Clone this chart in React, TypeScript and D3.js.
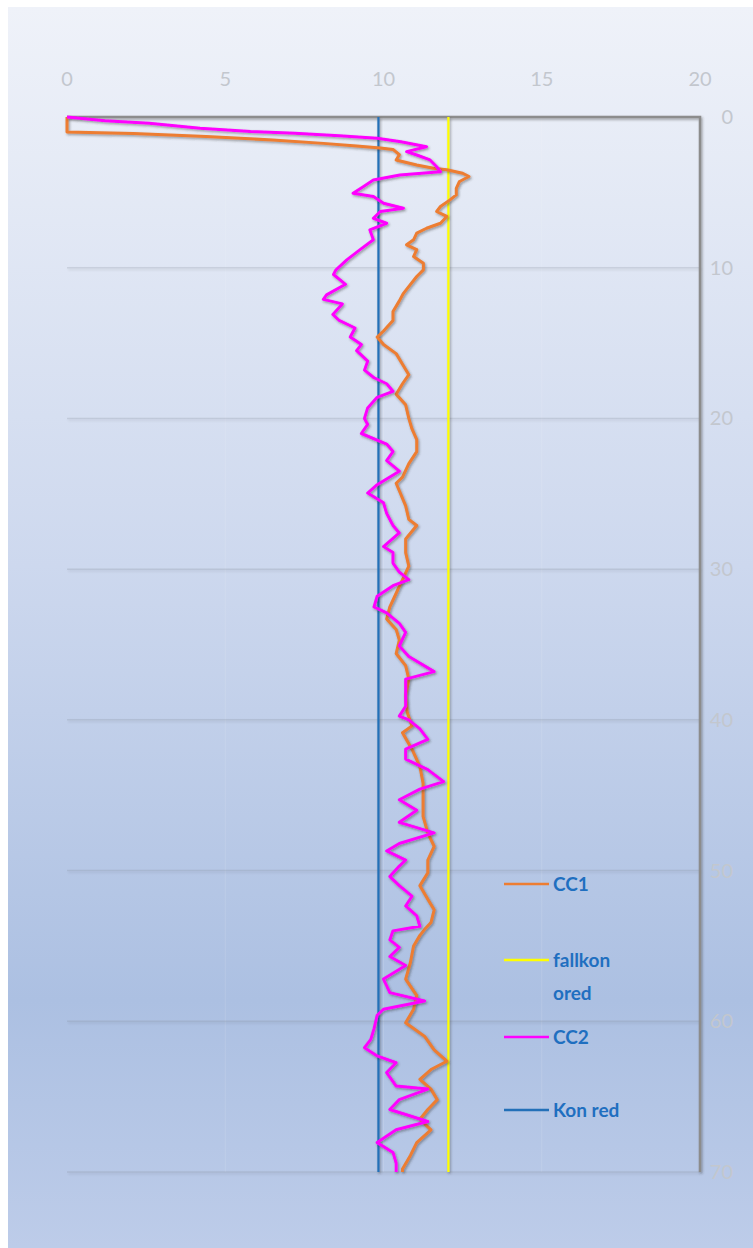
import React, { useEffect } from 'react';
import { scaleLinear, line } from 'd3';

const W = 753;
const H = 1248;

// depth (m) and value pairs
const cc1Depth = [0, 1.0, 1.1, 1.3, 1.52, 1.75, 1.93, 2.05, 2.15, 2.5, 2.85, 3.18, 3.4, 3.5, 3.73, 3.95, 4.28, 4.73, 5.17, 5.5, 5.94, 6.27, 6.6, 7.05, 7.38, 7.7, 8.15, 8.48, 8.8, 9.26, 9.7, 10.14, 10.58, 11.14, 11.7, 12.2, 12.9, 13.5, 14.2, 14.6, 15.1, 15.7, 16.4, 17.1, 17.7, 18.4, 19.1, 20.0, 20.7, 21.4, 22.2, 23.0, 23.9, 24.3, 24.8, 25.8, 26.7, 27.1, 28.0, 28.9, 29.8, 30.7, 31.6, 32.5, 33.3, 34.0, 34.7, 35.6, 36.4, 37.3, 38.4, 39.5, 40.4, 40.85, 41.95, 43.1, 44.2, 45.3, 46.4, 47.5, 48.4, 49.3, 50.15, 51.0, 51.9, 52.6, 53.45, 53.9, 54.3, 55.0, 56.1, 57.2, 58.3, 59.2, 60.1, 61.0, 61.9, 62.65, 63.2, 63.85, 64.5, 65.2, 65.85, 66.5, 67.2, 68.05, 68.9, 69.8, 70];
const cc1Value = [0, 0, 2.1, 4.4, 6.5, 8.1, 9.15, 9.9, 10.3, 10.5, 10.4, 11.05, 11.58, 12.0, 12.5, 12.7, 12.4, 12.3, 12.3, 12.1, 11.8, 11.68, 12.0, 11.8, 11.36, 11.05, 10.95, 10.73, 11.05, 10.95, 11.26, 11.26, 11.05, 10.84, 10.63, 10.5, 10.3, 10.3, 10.0, 9.8, 10.0, 10.4, 10.6, 10.8, 10.6, 10.4, 10.7, 10.8, 10.9, 11.05, 11.05, 10.8, 10.6, 10.4, 10.5, 10.7, 10.8, 11.05, 10.7, 10.7, 10.8, 10.6, 10.4, 10.2, 10.1, 10.4, 10.5, 10.4, 10.7, 10.8, 10.7, 10.75, 10.9, 10.6, 10.9, 11.15, 11.25, 11.25, 11.25, 11.4, 11.6, 11.4, 11.4, 11.15, 11.4, 11.6, 11.5, 11.3, 11.15, 10.95, 10.85, 10.7, 11.05, 10.95, 10.7, 11.3, 11.6, 12.0, 11.5, 11.15, 11.5, 11.7, 11.4, 11.15, 11.5, 11.05, 10.85, 10.6, 10.6];

const cc2Depth = [0, 0.25, 0.42, 0.75, 0.97, 1.08, 1.24, 1.41, 1.64, 1.97, 2.3, 2.52, 2.85, 3.3, 3.63, 3.85, 4.18, 4.62, 5.06, 5.28, 5.72, 6.05, 6.27, 6.72, 7.05, 7.49, 8.15, 8.8, 9.48, 10.14, 10.45, 11.1, 11.8, 12.1, 12.4, 13.1, 13.5, 14.0, 14.6, 15.1, 15.5, 16.2, 16.8, 17.3, 17.7, 18.2, 18.6, 19.3, 20.0, 20.4, 21.0, 21.7, 22.2, 22.8, 23.5, 24.4, 24.95, 25.6, 26.3, 27.1, 27.6, 28.5, 28.9, 29.6, 30.2, 30.7, 31.1, 31.8, 32.5, 32.9, 33.6, 34.2, 35.1, 35.8, 36.8, 37.3, 38.2, 39.1, 39.75, 40.0, 40.6, 41.3, 41.95, 42.6, 43.3, 44.1, 44.6, 45.3, 46.0, 46.8, 47.5, 48.2, 48.7, 49.3, 49.7, 50.4, 51.0, 51.7, 52.35, 53.0, 53.7, 54.0, 54.6, 55.1, 55.7, 56.3, 57.2, 58.1, 58.65, 59.2, 59.6, 60.5, 61.2, 61.75, 62.3, 62.75, 63.4, 64.3, 64.5, 65.2, 65.85, 66.65, 67.2, 68.05, 68.7, 69.4, 70];
const cc2Value = [0, 1.2, 2.6, 4.2, 5.8, 7.2, 8.6, 9.8, 10.55, 11.36, 10.73, 11.05, 11.47, 11.68, 11.8, 10.52, 9.68, 9.36, 9.04, 9.68, 10.0, 10.63, 9.9, 9.68, 10.1, 9.57, 9.68, 9.26, 8.84, 8.5, 8.42, 8.8, 8.2, 8.1, 8.7, 8.4, 8.6, 9.1, 8.95, 9.3, 9.15, 9.5, 9.4, 9.7, 10.1, 10.3, 9.8, 9.5, 9.4, 9.5, 9.3, 10.1, 10.3, 10.1, 10.5, 9.8, 9.5, 10.0, 10.1, 10.3, 10.5, 10.0, 10.3, 10.3, 10.5, 10.8, 10.3, 9.8, 9.7, 10.1, 10.5, 10.7, 10.5, 10.8, 11.6, 10.7, 10.7, 10.7, 10.5, 10.8, 11.15, 11.4, 10.7, 10.7, 11.4, 11.9, 11.15, 10.5, 11.05, 10.5, 11.6, 10.5, 10.1, 10.7, 10.5, 10.2, 10.5, 10.9, 10.7, 11.05, 11.15, 10.3, 10.2, 10.5, 10.2, 10.7, 10.0, 10.2, 11.3, 10.0, 9.8, 9.7, 9.6, 9.4, 9.8, 10.4, 10.1, 10.4, 11.4, 10.5, 10.2, 11.4, 10.4, 9.8, 10.3, 10.4, 10.4];

const konRed = 9.84;
const fallkonOred = 12.05;

const xTicks = [0, 5, 10, 15, 20];
const yTicks = [0, 10, 20, 30, 40, 50, 60, 70];

const legendItems = [
  { lines: ['CC1'], color: '#ed7d31' },
  { lines: ['fallkon', 'ored'], color: '#ffff00' },
  { lines: ['CC2'], color: '#ff00ff' },
  { lines: ['Kon red'], color: '#2370b8' },
];
const legendY = [884, 960, 1037, 1110];

const x = scaleLinear().domain([0, 20]).range([67, 700]);
const y = scaleLinear().domain([0, 70]).range([117, 1172]);

const path = line<[number, number]>()
  .x(d => x(d[1]))
  .y(d => y(d[0]));

const zip = (a: number[], b: number[]) => a.map((d, i) => [d, b[i]] as [number, number]);

export default function App() {
  useEffect(() => {
    document.body.style.margin = '0';
  }, []);

  const font = 'Lato, "Open Sans", sans-serif';

  return (
    <svg width={W} height={H} style={{ display: 'block' }}>
      <defs>
        <linearGradient id="bg" x1="0" y1="0" x2="0" y2="1">
          <stop offset="0" stopColor="#eff2f9" />
          <stop offset="0.45" stopColor="#cdd8ee" />
          <stop offset="0.8" stopColor="#acc0e2" />
          <stop offset="1" stopColor="#bdcce9" />
        </linearGradient>
        <filter id="shadow" filterUnits="userSpaceOnUse" x={0} y={0} width={W} height={H}>
          <feDropShadow dx="1.2" dy="1.5" stdDeviation="1.2" floodColor="#333" floodOpacity="0.45" />
        </filter>
      </defs>
      <rect x={0} y={0} width={W} height={H} fill="#fff" />
      <rect x={8} y={7} width={W - 8} height={H - 7} fill="url(#bg)" />

      {/* faint vertical gridlines */}
      {xTicks.slice(1, -1).map(t => (
        <line key={'v' + t} x1={x(t)} x2={x(t)} y1={y(0)} y2={y(70)} stroke="#ffffff" strokeOpacity={0.12} strokeWidth={1} />
      ))}
      {/* horizontal gridlines */}
      {yTicks.slice(1).map(t => (
        <line key={'h' + t} x1={x(0)} x2={x(20)} y1={y(t)} y2={y(t)} stroke="#7f8796" strokeOpacity={0.22} strokeWidth={1.5} filter="url(#shadow)" />
      ))}
      {/* frame: top + right */}
      <path d={`M${x(0)},${y(0)}H${x(20)}V${y(70)}`} fill="none" stroke="#8c8c8c" strokeWidth={2.5} filter="url(#shadow)" />

      {/* reference lines */}
      <line x1={x(konRed)} x2={x(konRed)} y1={y(0)} y2={y(70)} stroke="#2370b8" strokeWidth={2.2} filter="url(#shadow)" />
      <line x1={x(fallkonOred)} x2={x(fallkonOred)} y1={y(0)} y2={y(70)} stroke="#ffff00" strokeWidth={2.2} filter="url(#shadow)" />

      {/* series */}
      <path d={path(zip(cc1Depth, cc1Value)) || ''} fill="none" stroke="#ed7d31" strokeWidth={3} strokeLinejoin="round" filter="url(#shadow)" />
      <path d={path(zip(cc2Depth, cc2Value)) || ''} fill="none" stroke="#ff00ff" strokeWidth={3} strokeLinejoin="round" filter="url(#shadow)" />

      {/* top axis labels */}
      {xTicks.map(t => (
        <text key={'xt' + t} x={x(t)} y={86} textAnchor="middle" fontFamily={font} fontSize={20} fill="#c3c7ce">{t}</text>
      ))}
      {/* right axis labels */}
      {yTicks.map(t => (
        <text key={'yt' + t} x={733} y={y(t) + 7} textAnchor="end" fontFamily={font} fontSize={20} fill="#c3c7ce">{t}</text>
      ))}

      {/* legend */}
      {legendItems.map((item, i) => (
        <g key={'lg' + i}>
          <line x1={504} x2={549} y1={legendY[i]} y2={legendY[i]} stroke={item.color} strokeWidth={2.5} />
          {item.lines.map((s, j) => (
            <text key={j} x={553} y={legendY[i] + 7 + j * 33} fontFamily={font} fontWeight="bold" fontSize={19} fill="#1f6fc0">{s}</text>
          ))}
        </g>
      ))}
    </svg>
  );
}
